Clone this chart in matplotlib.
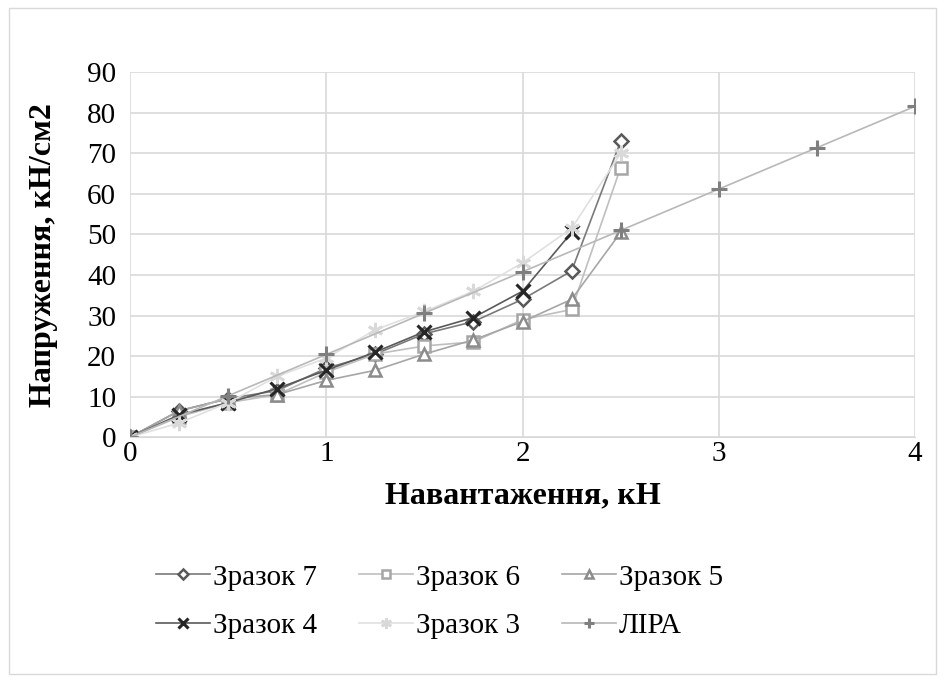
import matplotlib.pyplot as plt
from matplotlib.patches import Rectangle

plt.rcParams['font.family'] = ['Liberation Serif', 'DejaVu Serif']

x_full = [0, 0.25, 0.5, 0.75, 1, 1.25, 1.5, 1.75, 2, 2.25, 2.5]
x_s4 = [0, 0.25, 0.5, 0.75, 1, 1.25, 1.5, 1.75, 2, 2.25]
x_lira = [0, 0.5, 1, 1.5, 2, 2.5, 3, 3.5, 4]

s7 = [0, 6.5, 9.5, 11.5, 17, 20.5, 25.5, 28.5, 34, 41, 73]
s6 = [0, 5, 8.5, 10.5, 16, 20.5, 22.5, 23.5, 29, 31.5, 66.5]
s5 = [0, 6.5, 9.5, 10.5, 14, 16.5, 20.5, 24, 28.5, 34, 50.5]
s4 = [0, 5.5, 8.5, 12, 16.5, 21, 26, 29.5, 36, 50.5]
s3 = [0, 3.5, 8.5, 15, 19.5, 26.5, 31, 36, 43, 51.5, 70]
lira = [0, 10.2, 20.4, 30.6, 40.8, 51, 61.2, 71.4, 81.6]

fig = plt.figure(figsize=(9.45, 6.82), dpi=100)
fig.patches.append(Rectangle((0.009, 0.012), 0.982, 0.976, transform=fig.transFigure,
                             fill=False, edgecolor='#d9d9d9', linewidth=1))
ax = fig.add_axes([0.1376, 0.359, 0.8307, 0.535])

l7, = ax.plot(x_full, s7, color='#7a7a7a', lw=1.2, marker='D', ms=7, mfc='white',
              mec='#595959', mew=1.8, label='Зразок 7')
l6, = ax.plot(x_full, s6, color='#bfbfbf', lw=1.2, marker='s', ms=8, mfc='white',
              mec='#a6a6a6', mew=1.8, label='Зразок 6')
l5, = ax.plot(x_full, s5, color='#a6a6a6', lw=1.2, marker='^', ms=9, mfc='white',
              mec='#8c8c8c', mew=1.8, label='Зразок 5')
l4, = ax.plot(x_s4, s4, color='#5a5a5a', lw=1.2, marker='x', ms=10, mec='#262626',
              mew=2.2, label='Зразок 4')
l3, = ax.plot(x_full, s3, color='#e0e0e0', lw=1.2, marker=(6, 2, 0), ms=11,
              mec='#d9d9d9', mew=2.0, label='Зразок 3')
ll, = ax.plot(x_lira, lira, color='#b8b8b8', lw=1.2, marker='+', ms=11, mec='#7f7f7f',
              mew=2.2, label='ЛІРА')

ax.set_xlim(0, 4)
ax.set_ylim(0, 90)
ax.set_xticks(range(0, 5))
ax.set_yticks(range(0, 91, 10))
ax.grid(True, color='#d9d9d9', lw=1.2)
ax.set_axisbelow(True)
for s in ['top', 'right', 'left']:
    ax.spines[s].set_visible(False)
ax.spines['bottom'].set_color('#d9d9d9')
ax.tick_params(axis='x', length=0, labelsize=21, pad=3)
ax.tick_params(axis='y', length=0, labelsize=21, pad=10)

ax.set_xlabel('Навантаження, кН', fontsize=23, fontweight='bold')
ax.set_ylabel('Напруження, кН/см2', fontsize=23, fontweight='bold')
ax.xaxis.set_label_coords(0.5, -0.12)
ax.yaxis.set_label_coords(-0.092, 0.5)

# row-wise order: 7, 6, 5 / 4, 3, ЛІРА
handles = [l7, l4, l6, l3, l5, ll]
fig.legend(handles, [h.get_label() for h in handles], loc='center',
           bbox_to_anchor=(0.465, 0.118), ncol=3, frameon=False,
           fontsize=21, handlelength=1.85, columnspacing=1.45, handletextpad=0.1,
           labelspacing=0.75, markerscale=0.7)

fig.savefig('out.png', dpi=100)
